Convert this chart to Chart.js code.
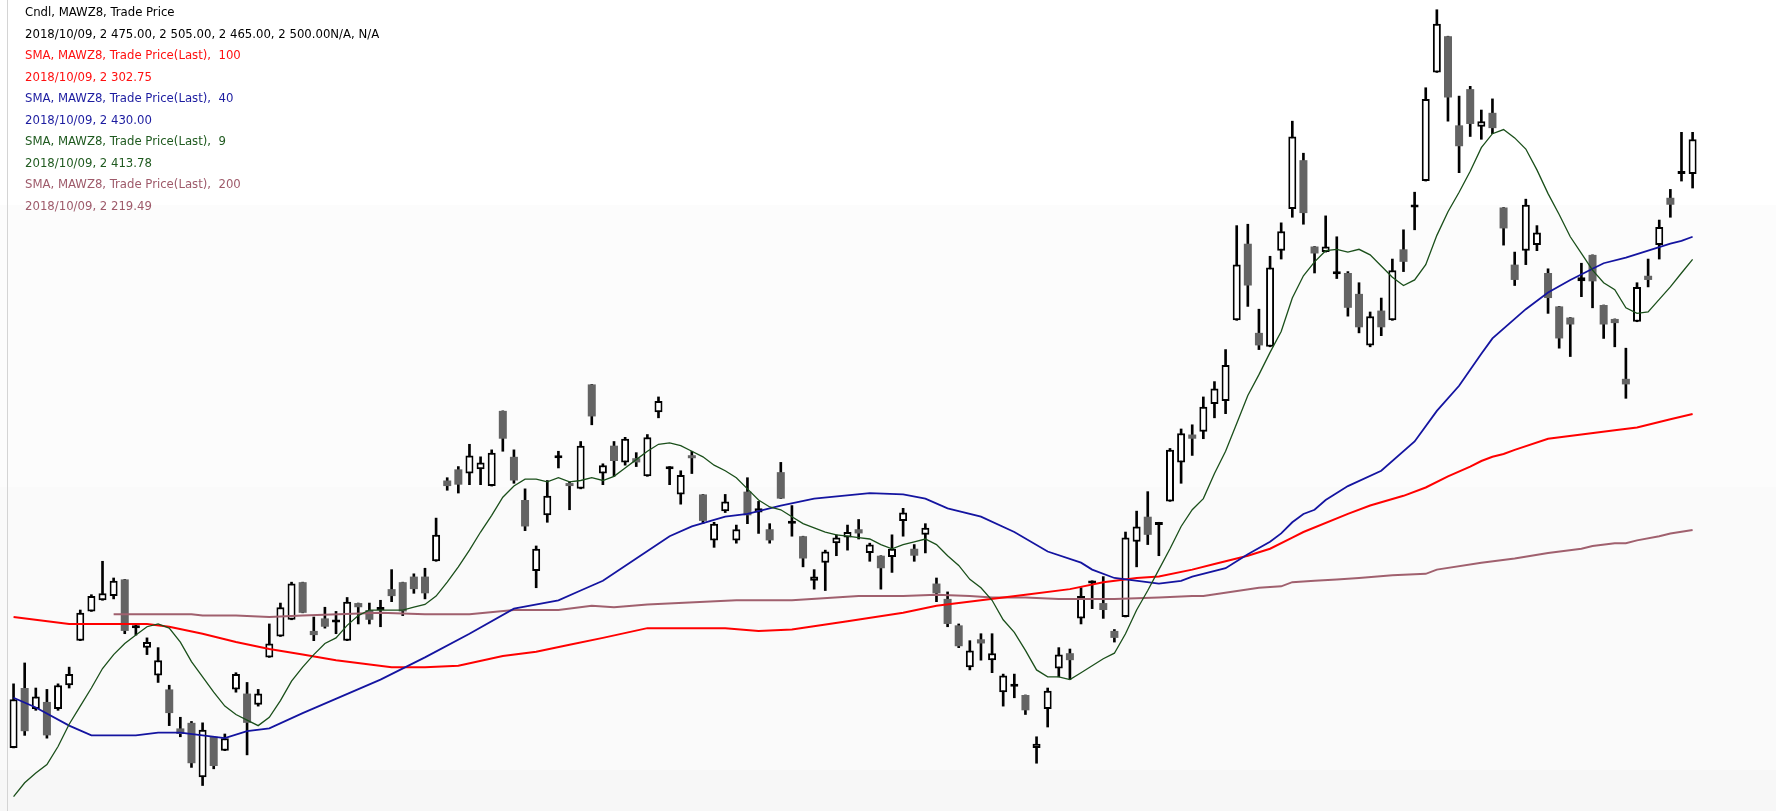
<!DOCTYPE html>
<html>
<head>
<meta charset="utf-8">
<title>MAWZ8</title>
<script src="https://cdn.jsdelivr.net/npm/chart.js@4.4.0/dist/chart.umd.min.js"></script>
<style>
  html, body {
    margin: 0;
    padding: 0;
    width: 1776px;
    height: 811px;
    overflow: hidden;
    background: linear-gradient(to bottom, #ffffff 0, #ffffff 205px, #fcfcfc 205px, #fcfcfc 487px, #fafafa 487px, #fafafa 770px, #f7f7f7 770px);
  }
  #border {
    position: absolute;
    left: 7px;
    top: 0;
    width: 1px;
    height: 811px;
    background: #d4d4d4;
  }
  #chart {
    position: absolute;
    left: 8px;
    top: 0;
  }
  #info {
    position: absolute;
    left: 25px;
    top: 1px;
    font-family: 'DejaVu Sans Condensed', 'DejaVu Sans', sans-serif;
    font-stretch: condensed;
    font-size: 13px;
    line-height: 21.5px;
    white-space: pre;
    z-index: 2;
  }
</style>
</head>
<body>
<div id="border"></div>
<canvas id="chart" width="1768" height="811"></canvas>
<div id="info"></div>
<script>
// Empieza aquí

const opens = [
  2063, 2106, 2091, 2096, 2091, 2108, 2140, 2161, 2169, 2172,
  2184, 2149, 2135, 2115, 2105, 2077, 2081, 2042, 2071, 2061,
  2105, 2102, 2094, 2128, 2143, 2155, 2182, 2147, 2156, 2153,
  2140, 2167, 2162, 2162, 2177, 2182, 2186, 2186, 2197, 2255,
  2263, 2260, 2263, 2251, 2305, 2272, 2241, 2190, 2230, 2271,
  2253, 2249, 2324, 2260, 2280, 2268, 2271, 2258, 2304, 2263,
  2245, 2273, 2245, 2212, 2233, 2212, 2247, 2232, 2220, 2261,
  2224, 2215, 2183, 2196, 2210, 2214, 2220, 2203, 2201, 2200,
  2226, 2206, 2216, 2181, 2170, 2151, 2121, 2141, 2126, 2103,
  2107, 2101, 2063, 2091, 2120, 2131, 2156, 2181, 2167, 2147,
  2157, 2211, 2229, 2223, 2240, 2268, 2288, 2290, 2310, 2312,
  2370, 2425, 2361, 2351, 2420, 2450, 2485, 2423, 2419, 2403,
  2404, 2389, 2352, 2377, 2370, 2421, 2451, 2470, 2548, 2574,
  2510, 2536, 2509, 2519, 2451, 2410, 2420, 2424, 2404, 2380,
  2372, 2398, 2417, 2381, 2371, 2328, 2369, 2402, 2424, 2458,
  2475, 2475,
];

const highs = [
  2109, 2124, 2106, 2105, 2109, 2121, 2162, 2173, 2197, 2185,
  2184, 2152, 2142, 2135, 2108, 2085, 2082, 2081, 2071, 2073,
  2117, 2110, 2105, 2152, 2167, 2182, 2182, 2157, 2164, 2161,
  2171, 2167, 2167, 2169, 2191, 2182, 2188, 2192, 2228, 2257,
  2265, 2281, 2272, 2277, 2305, 2277, 2249, 2208, 2255, 2276,
  2254, 2283, 2324, 2267, 2283, 2286, 2275, 2288, 2315, 2265,
  2262, 2276, 2245, 2225, 2245, 2223, 2257, 2240, 2224, 2268,
  2237, 2215, 2191, 2205, 2216, 2223, 2227, 2210, 2201, 2216,
  2235, 2209, 2224, 2185, 2175, 2152, 2140, 2145, 2145, 2116,
  2116, 2101, 2071, 2106, 2135, 2134, 2178, 2183, 2186, 2148,
  2218, 2233, 2247, 2225, 2278, 2292, 2295, 2315, 2326, 2349,
  2438, 2439, 2378, 2416, 2440, 2513, 2490, 2423, 2445, 2430,
  2405, 2397, 2376, 2386, 2414, 2435, 2462, 2537, 2593, 2574,
  2531, 2538, 2521, 2529, 2451, 2419, 2457, 2438, 2407, 2380,
  2372, 2411, 2417, 2381, 2371, 2350, 2397, 2414, 2442, 2464,
  2505, 2505,
];

const lows = [
  2063, 2072, 2090, 2070, 2090, 2106, 2140, 2161, 2169, 2170,
  2145, 2144, 2130, 2110, 2079, 2071, 2049, 2036, 2048, 2061,
  2103, 2058, 2093, 2128, 2143, 2155, 2160, 2140, 2149, 2145,
  2140, 2152, 2152, 2150, 2168, 2158, 2174, 2170, 2197, 2248,
  2246, 2252, 2252, 2251, 2276, 2253, 2219, 2178, 2225, 2264,
  2234, 2249, 2295, 2252, 2258, 2266, 2265, 2258, 2300, 2252,
  2238, 2260, 2224, 2207, 2232, 2210, 2224, 2217, 2210, 2242,
  2215, 2193, 2177, 2176, 2201, 2205, 2213, 2197, 2177, 2189,
  2215, 2197, 2203, 2168, 2150, 2135, 2119, 2126, 2117, 2093,
  2099, 2087, 2052, 2078, 2114, 2112, 2152, 2163, 2156, 2139,
  2157, 2193, 2209, 2201, 2240, 2253, 2273, 2285, 2300, 2303,
  2370, 2380, 2349, 2351, 2414, 2444, 2439, 2404, 2419, 2400,
  2373, 2361, 2351, 2359, 2370, 2405, 2435, 2470, 2548, 2513,
  2476, 2502, 2500, 2504, 2424, 2395, 2410, 2420, 2375, 2350,
  2344, 2387, 2379, 2357, 2351, 2314, 2369, 2394, 2414, 2444,
  2470, 2465,
];

const closes = [
  2098, 2075, 2100, 2072, 2108, 2116, 2160, 2172, 2174, 2183,
  2147, 2151, 2139, 2126, 2088, 2073, 2052, 2076, 2050, 2070,
  2116, 2081, 2102, 2138, 2164, 2181, 2160, 2144, 2150, 2153,
  2168, 2164, 2155, 2164, 2172, 2161, 2177, 2174, 2216, 2251,
  2252, 2273, 2268, 2275, 2285, 2255, 2222, 2206, 2244, 2271,
  2251, 2280, 2301, 2266, 2269, 2285, 2268, 2286, 2312, 2265,
  2259, 2271, 2226, 2224, 2240, 2220, 2230, 2235, 2212, 2242,
  2224, 2199, 2186, 2204, 2214, 2218, 2217, 2209, 2192, 2206,
  2232, 2201, 2221, 2174, 2152, 2136, 2133, 2138, 2131, 2115,
  2107, 2090, 2066, 2104, 2130, 2126, 2172, 2181, 2162, 2142,
  2214, 2222, 2216, 2223, 2277, 2289, 2285, 2308, 2321, 2338,
  2410, 2395, 2352, 2408, 2434, 2502, 2447, 2418, 2423, 2405,
  2379, 2365, 2373, 2365, 2406, 2412, 2451, 2529, 2583, 2530,
  2495, 2511, 2513, 2508, 2436, 2399, 2453, 2433, 2386, 2357,
  2367, 2401, 2398, 2367, 2368, 2324, 2394, 2399, 2437, 2453,
  2475, 2500,
];

// SMA 9, one value per candle
const sma9 = [
  2028, 2038, 2045, 2051, 2064, 2080, 2093, 2106, 2120, 2130,
  2138, 2144, 2150, 2152, 2149, 2139, 2125, 2114, 2103, 2093,
  2087, 2083, 2079, 2085, 2097, 2111, 2121, 2130, 2138, 2142,
  2151, 2158, 2162, 2162, 2162, 2162, 2164, 2166, 2172, 2182,
  2193, 2205, 2218, 2230, 2243, 2251, 2256, 2256, 2254, 2257,
  2254, 2255, 2257, 2255, 2258, 2264, 2270, 2276, 2281, 2282,
  2280, 2276, 2272, 2266, 2262, 2257, 2249, 2241, 2236, 2234,
  2229, 2224, 2221, 2218, 2216, 2215, 2214, 2213, 2209, 2206,
  2209, 2211, 2213, 2209, 2201, 2194, 2184, 2178, 2169, 2155,
  2146, 2133, 2119, 2114, 2114, 2112, 2117, 2122, 2127, 2131,
  2145, 2162, 2176, 2191, 2206, 2222, 2234, 2242, 2260, 2276,
  2296, 2316, 2331, 2347, 2362, 2386, 2402, 2412, 2420, 2421,
  2419, 2421, 2417, 2409, 2401, 2395, 2399, 2410, 2431, 2448,
  2462, 2477, 2494, 2504, 2507, 2501, 2493, 2478, 2461, 2446,
  2430, 2418, 2406, 2397, 2392, 2379, 2375, 2376, 2385, 2394,
  2404, 2413.78,
];

// the slower averages, read at [candle index, value]
const sma40 = [
  [0, 2099], [2, 2092], [5, 2079], [7, 2072], [11, 2072], [13, 2074], [15, 2074], [17, 2072],
  [19, 2070], [21, 2075], [23, 2077], [26, 2088], [33, 2112], [37, 2128], [41, 2145], [45, 2163],
  [49, 2169], [51, 2176], [53, 2183], [56, 2199], [59, 2215], [61, 2222], [64, 2229], [66, 2231],
  [69, 2237], [72, 2242], [77, 2246], [80, 2245], [82, 2242], [84, 2235], [87, 2229], [90, 2218],
  [93, 2204], [96, 2196], [97, 2191], [99, 2185], [103, 2181], [105, 2183], [106, 2186], [109, 2192],
  [111, 2202], [113, 2211], [114, 2217], [115, 2225], [116, 2231], [117, 2234], [118, 2241], [120, 2251],
  [123, 2262], [126, 2283], [128, 2305], [130, 2323], [132, 2346], [133, 2357], [136, 2378], [138, 2390],
  [140, 2399], [142, 2407], [143, 2411], [145, 2415], [147, 2420], [149, 2425], [150, 2427], [151, 2430],
];

const sma100 = [
  [0, 2157], [5, 2152], [12, 2152], [14, 2150], [17, 2145], [20, 2139], [23, 2134], [26, 2130],
  [29, 2126], [34, 2121], [37, 2121], [40, 2122], [44, 2129], [47, 2132], [50, 2137], [53, 2142],
  [57, 2149], [64, 2149], [67, 2147], [70, 2148], [75, 2154], [80, 2160], [83, 2165], [85, 2167],
  [91, 2173], [95, 2177], [98, 2182], [101, 2185], [103, 2186], [106, 2191], [108, 2195], [111, 2201],
  [113, 2206], [115, 2214], [116, 2218], [120, 2231], [122, 2237], [125, 2244], [127, 2250], [129, 2258],
  [131, 2265], [132, 2269], [133, 2272], [134, 2274], [135, 2277], [138, 2285], [141, 2288], [144, 2291],
  [146, 2293], [148, 2297], [149, 2299], [151, 2302.75],
];

const sma200 = [
  [9, 2159], [16, 2159], [17, 2158], [20, 2158], [23, 2157], [26, 2158], [33, 2160], [37, 2159],
  [41, 2159], [45, 2162], [49, 2162], [52, 2165], [54, 2164], [57, 2166], [65, 2169], [70, 2169],
  [76, 2172], [80, 2172], [83, 2173], [86, 2172], [88, 2171], [91, 2171], [94, 2170], [99, 2170],
  [103, 2171], [106, 2172], [107, 2172], [112, 2178], [114, 2179], [115, 2182], [117, 2183], [119, 2184],
  [121, 2185], [124, 2187], [127, 2188], [128, 2191], [132, 2196], [135, 2199], [138, 2203], [141, 2206],
  [142, 2208], [144, 2210], [145, 2210], [146, 2212], [148, 2215], [149, 2217], [151, 2219.49],
];

const infoLines = [
  ['Cndl, MAWZ8, Trade Price', '#000000'],
  ['2018/10/09, 2 475.00, 2 505.00, 2 465.00, 2 500.00N/A, N/A', '#000000'],
  ['SMA, MAWZ8, Trade Price(Last),  100', '#ff1010'],
  ['2018/10/09, 2 302.75', '#ff1010'],
  ['SMA, MAWZ8, Trade Price(Last),  40', '#1c1ca0'],
  ['2018/10/09, 2 430.00', '#1c1ca0'],
  ['SMA, MAWZ8, Trade Price(Last),  9', '#1f5a1f'],
  ['2018/10/09, 2 413.78', '#1f5a1f'],
  ['SMA, MAWZ8, Trade Price(Last),  200', '#9e5a6a'],
  ['2018/10/09, 2 219.49', '#9e5a6a'],
];

const emptySlots = 7;
const n = opens.length;
const labels = Array.from({ length: n + emptySlots }, (_, i) => (i < n ? `#${i + 1}` : ''));

const toSeries = (points) => {
  const arr = labels.map(() => null);
  points.forEach(([i, v]) => {
    arr[i] = v;
  });
  return arr;
};

const isUp = opens.map((o, i) => closes[i] >= o);

const info = document.querySelector('#info');
infoLines.forEach(([text, color]) => {
  const line = document.createElement('div');
  line.style.color = color;
  line.textContent = text;
  info.appendChild(line);
});

const smaLine = (data, color, width, order) => ({
  type: 'line',
  data,
  borderColor: color,
  borderWidth: width,
  pointRadius: 0,
  tension: 0,
  spanGaps: true,
  order,
});

const ctx = document.querySelector('#chart').getContext('2d');

new Chart(ctx, {
  data: {
    labels,
    datasets: [
      {
        type: 'bar',
        data: lows.map((l, i) => [l, highs[i]]),
        backgroundColor: '#000000',
        barThickness: 2,
        grouped: false,
        order: 10,
      },
      {
        type: 'bar',
        data: opens.map((o, i) => [o, closes[i]]),
        backgroundColor: isUp.map((up) => (up ? '#ffffff' : '#646464')),
        borderColor: '#000000',
        borderWidth: isUp.map((up) => (up ? 2 : 0)),
        borderSkipped: false,
        inflateAmount: 0,
        barThickness: 8,
        minBarLength: 3,
        grouped: false,
        order: 9,
      },
      smaLine(toSeries(sma200), '#a0606e', 2, 4),
      smaLine(toSeries(sma100), '#ff0000', 2, 3),
      smaLine(toSeries(sma40), '#1414a0', 1.8, 2),
      smaLine(sma9, '#1a4f1a', 1.3, 1),
    ],
  },
  options: {
    responsive: false,
    animation: false,
    events: [],
    layout: { padding: 0 },
    plugins: {
      legend: { display: false },
      tooltip: { enabled: false },
    },
    scales: {
      x: { type: 'category', display: false, offset: true },
      y: { type: 'linear', display: false, min: 2017.7, max: 2600 },
    },
  },
});
</script>
</body>
</html>
